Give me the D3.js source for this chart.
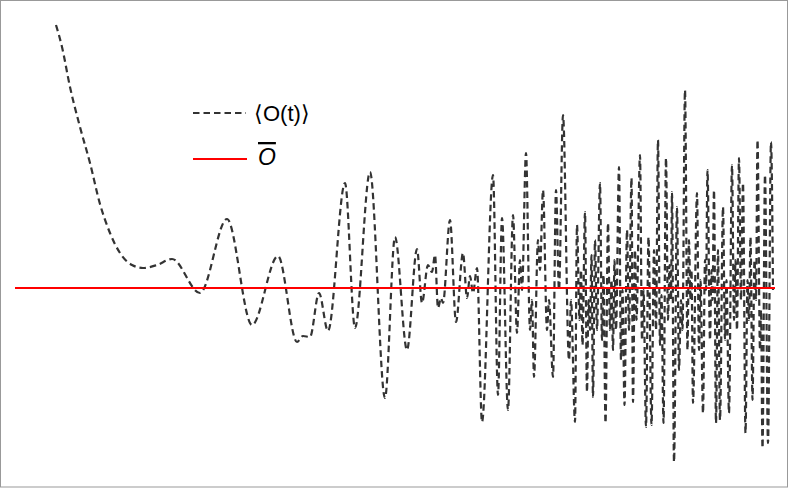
<!DOCTYPE html>
<html>
<head>
<meta charset="utf-8">
<script src="https://cdn.jsdelivr.net/npm/d3@7"></script>
<style>
	body { margin: 0; background: #fff; }
	svg { display: block; }
	.legend-text { font-family: 'Liberation Sans', Arial, sans-serif; fill: #000; }
</style>
</head>
<body>
<div id="chart"></div>
<script>
// time samples (turning points of the signal) and expectation values <O(t)>
var times = [
	0, 0.6, 1.4, 2.4, 3.4, 4.4, 5.4, 6.4, 7.6, 8.7,
	10.1, 11.6, 14.4, 17.1, 19.6, 22.2, 24.1, 24.7, 25.4, 26.3,
	27.2, 28.9, 29.9, 31.4, 32.9, 33.9, 35.1, 36.1, 36.6, 37.2,
	37.6, 37.9, 38.2, 38.5, 38.7, 39.4, 40.0, 40.7, 41.1, 41.4,
	41.7, 42.1, 42.6, 43.7, 44.2, 44.6, 45.2, 45.7, 46.1, 46.4,
	46.6, 47.0, 47.4, 47.6, 47.8, 48.2, 48.4, 48.7, 49.1, 49.3,
	49.7, 50.0, 50.3, 50.7, 51.3, 51.5,
	51.9, 52.1, 52.35, 52.5, 52.65, 52.9, 53.1, 53.25, 53.4, 53.55,
	53.7, 53.9, 54.1, 54.4, 54.6, 54.75, 54.95, 55.2, 55.4, 55.55,
	55.7, 55.85, 56.0, 56.3, 56.5, 56.65, 56.85, 57.1, 57.3, 57.55,
	57.7, 57.9, 58.05, 58.4, 58.6, 58.75, 59.0, 59.25, 59.55, 59.8,
	60.0, 60.2, 60.4, 60.55, 60.75, 61.0, 61.2, 61.35, 61.5, 61.6,
	61.8, 62.1, 62.3, 62.5, 62.65, 62.9, 63.15, 63.3, 63.45, 63.55,
	63.7, 64.1, 64.3, 64.45, 64.7, 64.9, 65.0, 65.15, 65.4, 65.55,
	65.65, 65.8, 66.0, 66.2, 66.4, 66.7, 66.9, 67.05, 67.3, 67.6,
	67.8, 67.95, 68.1, 68.3, 68.5, 68.7, 68.95, 69.15, 69.3, 69.45,
	69.65, 69.85, 70.0, 70.15, 70.4, 70.5, 70.65, 70.9, 71.2, 71.5,
	71.7
];

var values = [
	2.63, 2.41, 2.01, 1.61, 1.25, 0.84, 0.55, 0.35, 0.23, 0.20,
	0.23, 0.29, -0.05, 0.69, -0.37, 0.32, -0.54, -0.48, -0.49, -0.05,
	-0.43, 1.05, -0.40, 1.16, -1.10, 0.51, -0.62, 0.39, -0.15, 0.23,
	0.16, 0.33, -0.20, -0.10, -0.15, 0.68, -0.34, 0.35, -0.10, 0.12,
	-0.05, 0.20, -1.34, 1.13, -1.07, 0.70, -1.22, 0.73, -0.45, 0.28,
	-0.02, 1.35, -0.42, -0.12, -0.89, 0.48, 0.18, 0.98, -0.42, -0.12,
	-0.89, 0.98, -0.02, 1.73, -0.72, -0.12,
	-1.34, 0.63, -0.32, 0.18, -0.57, 0.76, -1.04, -0.12, -0.42, 0.33,
	-1.09, 0.48, -0.42, 1.05, -0.52, 0.13, -1.35, 0.65, -0.42, 0.08,
	-0.62, 0.28, -0.42, 1.21, -0.72, -0.02, -1.17, 0.58, -0.42, 1.10,
	-1.14, 0.38, -0.32, 1.33, -0.52, -0.02, -1.39, 0.51, -1.37, 0.38,
	-0.42, 1.48, -0.57, -0.07, -1.35, 1.30, -0.32, 0.23, -0.12, 0.96,
	-1.74, 0.81, -0.82, -0.12, -0.42, 1.98, -0.62, 0.48, -0.12, 0.18,
	-1.15, 0.95, -0.62, 0.08, -1.25, 0.28, -0.02, 1.18, -0.52, 0.18,
	-0.12, 0.98, -1.35, 0.38, -1.32, 0.81, -0.52, 0.08, -1.25, 1.23,
	-0.32, 0.28, -0.42, 1.30, -0.12, 1.05, -1.45, 0.08, -0.32, 0.51,
	-1.12, 0.28, -0.12, 1.48, -0.62, -0.22, -1.60, 1.13, -1.55, 1.46,
	-0.02
];

// long-time average and the time span its line covers
var meanValue = 0;
var meanSpan = [-4.1, 71.9];

var seriesLabels = ['\u27E8O(t)\u27E9', 'O'];

var width = 789, height = 489;

var data = times.map(function(t, i) { return { t: t, v: values[i] }; });

var svg = d3.select('#chart').append('svg')
	.attr('width', width)
	.attr('height', height);

svg.append('rect')
	.attr('x', 0.5)
	.attr('y', 0.5)
	.attr('width', 787)
	.attr('height', 486.5)
	.attr('fill', '#fff')
	.attr('stroke', '#999')
	.attr('stroke-width', 1);

var xScale = d3.scaleLinear()
	.domain([0, 71.7])
	.range([56, 773]);

var yScale = d3.scaleLinear()
	.domain([-2, 2.8])
	.range([488, 8]);

var line = d3.line()
	.x(function(d) { return xScale(d.t); })
	.y(function(d) { return yScale(d.v); })
	.curve(d3.curveMonotoneX);

svg.append('path')
	.attr('d', line(data))
	.attr('fill', 'none')
	.attr('stroke', '#333')
	.attr('stroke-width', 2.2)
	.attr('stroke-dasharray', '6.5,4');

svg.append('line')
	.attr('x1', xScale(meanSpan[0]))
	.attr('x2', xScale(meanSpan[1]))
	.attr('y1', yScale(meanValue))
	.attr('y2', yScale(meanValue))
	.attr('stroke', '#ff0000')
	.attr('stroke-width', 2);

// legend
var legend = svg.append('g')
	.attr('transform', 'translate(193, 113)');

legend.append('line')
	.attr('x1', 0).attr('x2', 53)
	.attr('y1', 0).attr('y2', 0)
	.attr('stroke', '#333')
	.attr('stroke-width', 2.2)
	.attr('stroke-dasharray', '6.5,4');

legend.append('text')
	.attr('class', 'legend-text')
	.attr('x', 61)
	.attr('y', 8)
	.style('font-size', '22px')
	.text(seriesLabels[0]);

legend.append('line')
	.attr('x1', 0).attr('x2', 54)
	.attr('y1', 46).attr('y2', 46)
	.attr('stroke', '#ff0000')
	.attr('stroke-width', 2);

legend.append('text')
	.attr('class', 'legend-text')
	.attr('x', 65)
	.attr('y', 52)
	.style('font-size', '23px')
	.style('font-style', 'italic')
	.style('text-decoration', 'overline')
	.text(seriesLabels[1]);
</script>
</body>
</html>
